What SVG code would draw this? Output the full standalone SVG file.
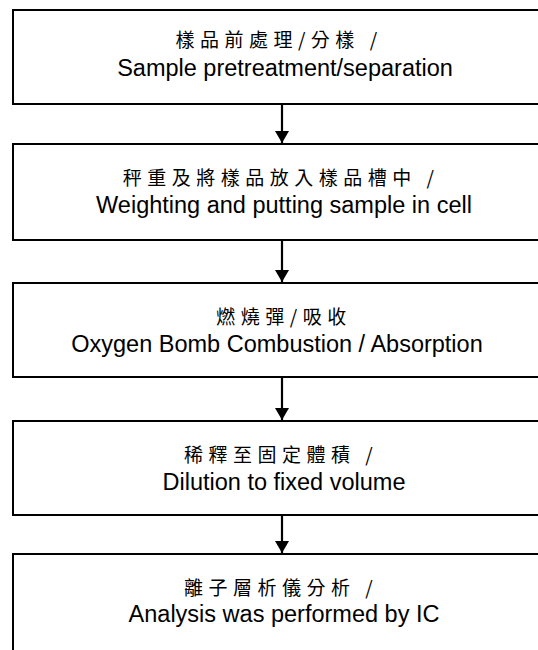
<svg xmlns="http://www.w3.org/2000/svg" width="538" height="650" viewBox="0 0 538 650">
<defs>
<style>
.box{fill:#fff;stroke:#000;stroke-width:2}
.cjk{font-family:"Noto Sans CJK TC","Noto Sans CJK SC",sans-serif;font-size:19px;letter-spacing:5.5px;fill:#000;text-anchor:middle}
.en{font-family:"Liberation Sans",Arial,sans-serif;font-size:23.5px;fill:#000;text-anchor:middle}
.conn{stroke:#000;stroke-width:2.2;fill:none}
</style>
<marker id="ah" viewBox="0 0 12 14" refX="12" refY="7" markerWidth="12" markerHeight="14" markerUnits="userSpaceOnUse" orient="auto">
<path d="M0,0 L12,7 L0,14 Z" fill="#000"/>
</marker>
</defs>
<rect width="538" height="650" fill="#fff"/>
<g id="n1">
<rect class="box" x="13" y="10" width="540" height="94"/>
<text class="cjk" x="279" y="47">樣品前處理/分樣 /</text>
<text class="en" x="285" y="76">Sample pretreatment/separation</text>
</g>
<g id="n2">
<rect class="box" x="13" y="144" width="540" height="96"/>
<text class="cjk" x="281" y="185">秤重及將樣品放入樣品槽中 /</text>
<text class="en" x="284" y="213">Weighting and putting sample in cell</text>
</g>
<g id="n3">
<rect class="box" x="13" y="283" width="540" height="94"/>
<text class="cjk" x="284" y="324">燃燒彈/吸收</text>
<text class="en" x="277" y="352">Oxygen Bomb Combustion / Absorption</text>
</g>
<g id="n4">
<rect class="box" x="13" y="421" width="540" height="94"/>
<text class="cjk" x="281" y="462">稀釋至固定體積 /</text>
<text class="en" x="284" y="490">Dilution to fixed volume</text>
</g>
<g id="n5">
<rect class="box" x="13" y="554" width="540" height="120"/>
<text class="cjk" x="281" y="595">離子層析儀分析 /</text>
<text class="en" x="284" y="622">Analysis was performed by IC</text>
</g>
<g id="connectors">
<line class="conn" x1="282" y1="104" x2="282" y2="143" marker-end="url(#ah)"/>
<line class="conn" x1="282" y1="240" x2="282" y2="282" marker-end="url(#ah)"/>
<line class="conn" x1="282" y1="377" x2="282" y2="420" marker-end="url(#ah)"/>
<line class="conn" x1="282" y1="515" x2="282" y2="553" marker-end="url(#ah)"/>
</g>
</svg>
